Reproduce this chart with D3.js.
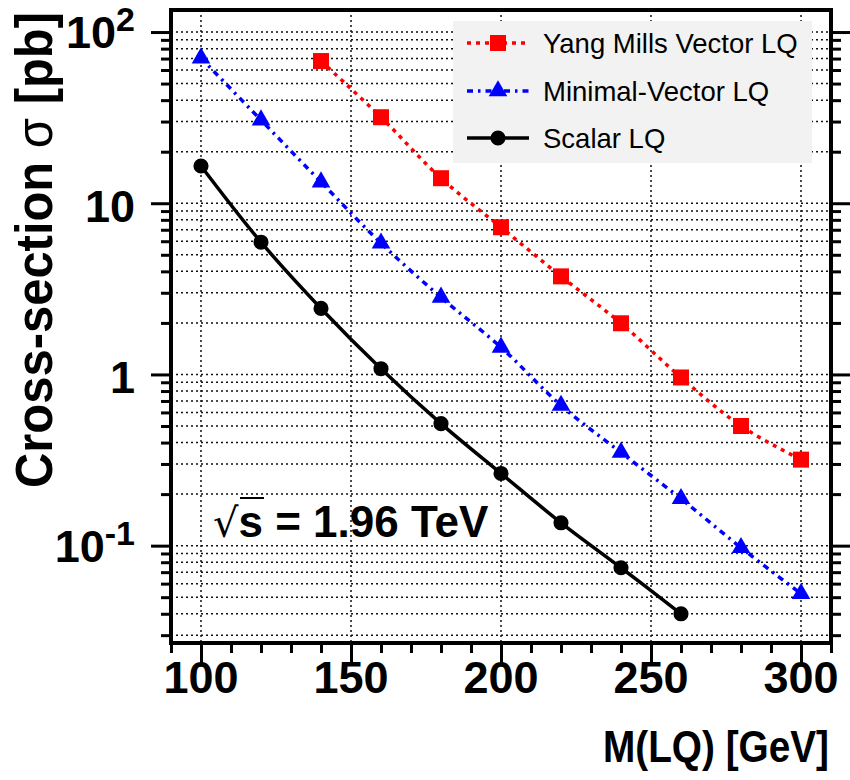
<!DOCTYPE html>
<html>
<head>
<meta charset="utf-8">
<script src="https://cdn.jsdelivr.net/npm/d3@7"></script>
<style>
  body { margin: 0; background: #fff; }
  svg { display: block; }
  text { font-family: "Liberation Sans", Arial, Helvetica, sans-serif; }
</style>
</head>
<body>
<svg width="850" height="780"></svg>
<script>
// data
var yangMass = [140, 160, 180, 200, 220, 240, 260, 280, 300];
var yangXsec = [67.7, 31.8, 14.0, 7.24, 3.74, 1.99, 0.96, 0.50, 0.318];
var minimalMass = [100, 120, 140, 160, 180, 200, 220, 240, 260, 280, 300];
var minimalXsec = [70.5, 30.6, 13.3, 5.84, 2.82, 1.44, 0.659, 0.350, 0.188, 0.0973, 0.0524];
var scalarMass = [100, 120, 140, 160, 180, 200, 220, 240, 260];
var scalarXsec = [16.5, 5.92, 2.43, 1.08, 0.516, 0.264, 0.136, 0.0743, 0.040];

var xMajor = [100, 150, 200, 250, 300];
var yMajor = [100, 10, 1, 0.1];
var yMajorLabels = [["10", "2"], ["10", ""], ["1", ""], ["10", "-1"]];
var legendNames = ["Yang Mills Vector LQ", "Minimal-Vector LQ", "Scalar LQ"];

var svg = d3.select('svg');
// frame box (window.top is reserved, so use own names)
var frameL = 171, frameR = 831, frameT = 10, frameB = 643;

var x = d3.scaleLinear().domain([90, 310]).range([frameL, frameR]);
var y = d3.scaleLog().domain([0.027, 134.5]).range([frameB, frameT]);

// minor ticks on y: 2..9 per decade inside domain
var yMinor = [];
[0.01, 0.1, 1, 10, 100].forEach(function(d) {
  for (var k = 2; k <= 9; k++) {
    var v = d * k;
    if (v > y.domain()[0] && v < y.domain()[1]) yMinor.push(v);
  }
});
var xMinor = d3.range(90, 311, 10).filter(function(v) { return xMajor.indexOf(v) < 0; });

// grid
var grid = svg.append('g')
  .attr('stroke', '#111')
  .attr('stroke-width', 1.5)
  .attr('stroke-dasharray', '2,3');
grid.selectAll('line.h')
  .data(yMajor.concat(yMinor))
  .enter().append('line')
  .attr('x1', frameL).attr('x2', frameR)
  .attr('y1', function(d) { return y(d); })
  .attr('y2', function(d) { return y(d); });
grid.selectAll('line.v')
  .data(xMajor)
  .enter().append('line')
  .attr('y1', frameT).attr('y2', frameB)
  .attr('x1', function(d) { return x(d); })
  .attr('x2', function(d) { return x(d); });

// legend box (drawn over the grid)
var legend = svg.append('g');
legend.append('rect')
  .attr('x', 453).attr('y', 21)
  .attr('width', 359).attr('height', 142)
  .attr('fill', '#f2f2f2');

// axes ticks (outside the frame)
function styleAxis(g) {
  g.select('.domain').remove();
  g.selectAll('.tick line').attr('stroke', '#000').attr('stroke-width', 3);
  g.selectAll('.tick text').remove();
}
svg.append('g').attr('transform', 'translate(0,' + frameB + ')')
  .call(d3.axisBottom(x).tickValues(xMajor).tickSize(20)).call(styleAxis);
svg.append('g').attr('transform', 'translate(0,' + frameB + ')')
  .call(d3.axisBottom(x).tickValues(xMinor).tickSize(10)).call(styleAxis);
svg.append('g').attr('transform', 'translate(' + frameL + ',0)')
  .call(d3.axisLeft(y).tickValues(yMajor).tickSize(20)).call(styleAxis);
svg.append('g').attr('transform', 'translate(' + frameL + ',0)')
  .call(d3.axisLeft(y).tickValues(yMinor).tickSize(10)).call(styleAxis);
svg.append('g').attr('transform', 'translate(' + frameR + ',0)')
  .call(d3.axisRight(y).tickValues(yMajor).tickSize(20)).call(styleAxis);
svg.append('g').attr('transform', 'translate(' + frameR + ',0)')
  .call(d3.axisRight(y).tickValues(yMinor).tickSize(10)).call(styleAxis);

// tick labels
svg.append('g').selectAll('text')
  .data(xMajor)
  .enter().append('text')
  .attr('x', function(d) { return x(d); })
  .attr('y', 693)
  .attr('text-anchor', 'middle')
  .attr('font-size', 45)
  .attr('font-weight', 'bold')
  .text(function(d) { return d; });

var yl = svg.append('g').selectAll('text')
  .data(yMajor)
  .enter().append('text')
  .attr('x', 135)
  .attr('y', function(d, i) { return y(d) + (yMajorLabels[i][1] ? 16 : 19); })
  .attr('text-anchor', 'end')
  .attr('font-size', 45)
  .attr('font-weight', 'bold');
yl.append('tspan').text(function(d, i) { return yMajorLabels[i][0]; });
yl.append('tspan')
  .attr('font-size', 34)
  .attr('dy', -17)
  .text(function(d, i) { return yMajorLabels[i][1]; });

// axis titles
svg.append('text')
  .attr('x', 829).attr('y', 762)
  .attr('text-anchor', 'end')
  .attr('font-size', 44)
  .attr('font-weight', 'bold')
  .attr('textLength', 226)
  .attr('lengthAdjust', 'spacingAndGlyphs')
  .text('M(LQ) [GeV]');

var yt = svg.append('text')
  .attr('transform', 'translate(52,488) rotate(-90)')
  .attr('font-size', 52)
  .attr('font-weight', 'bold')
  .attr('textLength', 476)
  .attr('lengthAdjust', 'spacingAndGlyphs');
yt.append('tspan').text('Cross-section ');
yt.append('tspan').attr('font-weight', 'normal').text('σ');
yt.append('tspan').text(' [pb]');

// curves
var line = d3.line()
  .x(function(d) { return x(d[0]); })
  .y(function(d) { return y(d[1]); })
  .curve(d3.curveCatmullRom);

var series = [
  { mass: yangMass, xsec: yangXsec, color: '#ff0000', dash: '4,5', symbol: d3.symbolSquare, size: 256 },
  { mass: minimalMass, xsec: minimalXsec, color: '#0000ff', dash: '6,5,2.5,5', symbol: d3.symbolTriangle, size: 150 },
  { mass: scalarMass, xsec: scalarXsec, color: '#000000', dash: null, symbol: d3.symbolCircle, size: 180 }
];

series.forEach(function(s) {
  var pts = d3.zip(s.mass, s.xsec);
  svg.append('path')
    .datum(pts)
    .attr('d', line)
    .attr('fill', 'none')
    .attr('stroke', s.color)
    .attr('stroke-width', 3.5)
    .attr('stroke-dasharray', s.dash);
  svg.append('g').selectAll('path')
    .data(pts)
    .enter().append('path')
    .attr('transform', function(d) { return 'translate(' + x(d[0]) + ',' + y(d[1]) + ')'; })
    .attr('d', d3.symbol().type(s.symbol).size(s.size))
    .attr('fill', s.color);
});

// legend entries
var rows = [43, 91, 138];
series.forEach(function(s, i) {
  legend.append('line')
    .attr('x1', 467).attr('x2', 529)
    .attr('y1', rows[i]).attr('y2', rows[i])
    .attr('stroke', s.color)
    .attr('stroke-width', 3.5)
    .attr('stroke-dasharray', s.dash);
  legend.append('path')
    .attr('transform', 'translate(498,' + rows[i] + ')')
    .attr('d', d3.symbol().type(s.symbol).size(s.size))
    .attr('fill', s.color);
  legend.append('text')
    .attr('x', 543).attr('y', rows[i] + 10)
    .attr('font-size', 27.5)
    .text(legendNames[i]);
});

// sqrt(s) label
var lab = svg.append('text')
  .attr('x', 213).attr('y', 537)
  .attr('font-size', 44)
  .attr('font-weight', 'bold');
lab.append('tspan').attr('font-weight', 'normal').attr('font-family', 'DejaVu Sans').attr('font-size', 40).text('√');
lab.append('tspan').text('s = 1.96 TeV');
svg.append('line')
  .attr('x1', 240).attr('x2', 264)
  .attr('y1', 498).attr('y2', 498)
  .attr('stroke', '#000').attr('stroke-width', 2);

// frame
svg.append('rect')
  .attr('x', frameL).attr('y', frameT)
  .attr('width', frameR - frameL).attr('height', frameB - frameT)
  .attr('fill', 'none')
  .attr('stroke', '#000')
  .attr('stroke-width', 4);
</script>
</body>
</html>
